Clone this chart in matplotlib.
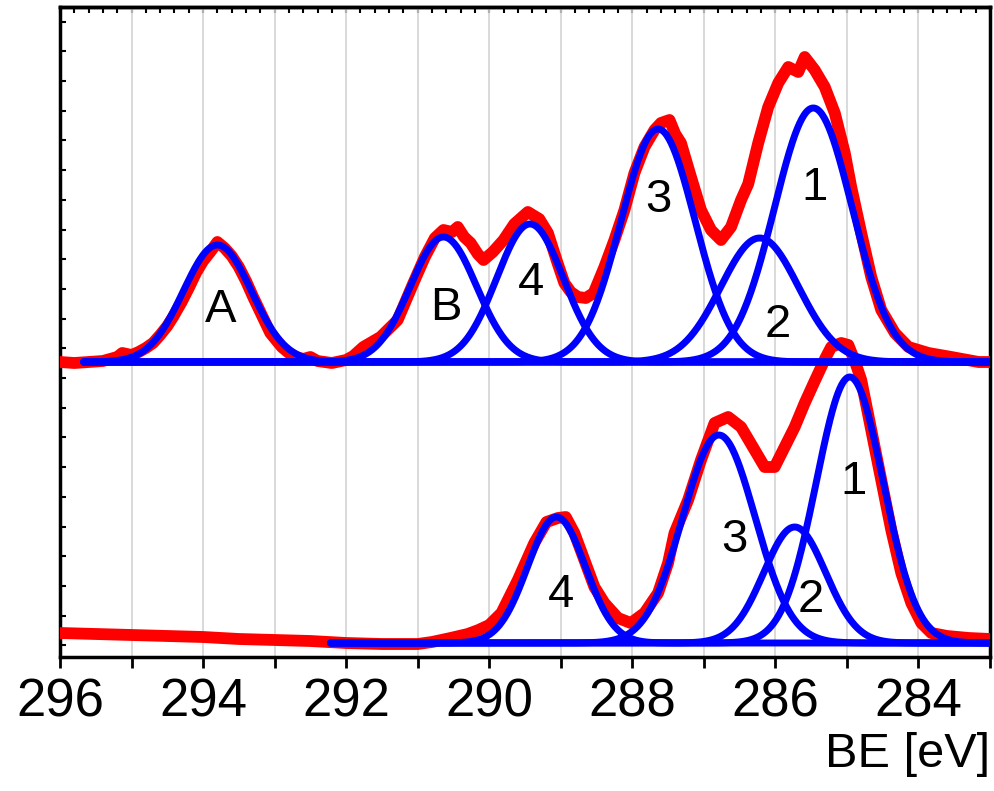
import numpy as np
import matplotlib
matplotlib.use("Agg")
import matplotlib.pyplot as plt
from matplotlib.ticker import MultipleLocator, NullFormatter

plt.rcParams['font.family'] = ['Liberation Sans', 'DejaVu Sans']

# ---------------- data ----------------
# upper spectrum: measured C1s (red), binding energy [eV] / intensity (a.u.)
top_be = [296.00, 295.80, 295.60, 295.40, 295.20, 295.13, 295.00, 294.90, 294.80, 294.70,
          294.60, 294.50, 294.42, 294.30, 294.20, 294.10, 294.00, 293.90, 293.80, 293.70,
          293.60, 293.50, 293.40, 293.30, 293.20, 293.06, 292.90, 292.80, 292.70, 292.60,
          292.50, 292.40, 292.20, 292.00, 291.90, 291.76, 291.52, 291.28, 291.06, 290.90,
          290.76, 290.64, 290.52, 290.44, 290.35, 290.26, 290.16, 290.08, 289.95, 289.80,
          289.65, 289.46, 289.30, 289.18, 289.05, 288.95, 288.86, 288.76, 288.65, 288.54,
          288.39, 288.25, 288.11, 287.97, 287.83, 287.69, 287.60, 287.48, 287.40, 287.32,
          287.18, 287.04, 286.90, 286.76, 286.62, 286.48, 286.38, 286.24, 286.10, 285.96,
          285.82, 285.68, 285.59, 285.45, 285.31, 285.17, 285.03, 284.94, 284.80, 284.66,
          284.52, 284.33, 284.14, 283.86, 283.54, 283.16, 283.00]
top_int = [0, -1, 0, 1, 5, 9, 7, 10, 14, 19,
           27, 36, 45, 60, 74, 89, 101, 110, 120, 114,
           106, 95, 81, 65, 50, 29, 15, 9, 5, 3,
           5, 1, -1, 2, 6, 15, 25, 42, 79, 105,
           124, 132, 130, 135, 125, 119, 108, 102, 110, 122,
           138, 150, 143, 129, 100, 79, 70, 65, 64, 69,
           95, 122, 152, 189, 215, 232, 239, 242, 228, 219,
           185, 152, 132, 122, 135, 162, 178, 219, 255, 279,
           295, 290, 305, 292, 275, 249, 209, 175, 129, 85,
           52, 29, 15, 9, 5, 0, 0]

# lower spectrum: measured C1s (red)
bot_be = [296.00, 295.50, 295.00, 294.50, 294.00, 293.50, 293.00, 292.50, 292.00, 291.50,
          291.00, 290.80, 290.54, 290.30, 290.15, 290.00, 289.83, 289.60, 289.37, 289.20,
          289.04, 288.93, 288.81, 288.67, 288.53, 288.39, 288.20, 288.02, 287.83, 287.64,
          287.50, 287.41, 287.22, 287.04, 286.85, 286.66, 286.48, 286.29, 286.15, 286.01,
          285.87, 285.73, 285.59, 285.45, 285.30, 285.22, 285.08, 284.98, 284.88, 284.80,
          284.66, 284.52, 284.38, 284.24, 284.10, 283.96, 283.82, 283.60, 283.30, 283.00]
bot_int = [10, 9, 8, 7, 6, 4, 3, 2, 0, -1,
           -1, 1, 5, 9, 13, 18, 30, 63, 100, 121,
           125, 126, 110, 83, 56, 40, 25, 20, 30, 50,
           80, 110, 143, 183, 220, 226, 216, 193, 176, 176,
           196, 216, 240, 262, 285, 296, 300, 298, 280, 263,
           213, 163, 113, 70, 40, 20, 10, 7, 5, 4]

# fitted components (blue): centre [eV], height (a.u.), FWHM [eV]
top_labels  = ['A', 'B', '4', '3', '2', '1']
top_centre  = [293.80, 290.64, 289.43, 287.64, 286.22, 285.47]
top_height  = [117, 125, 138, 233, 124, 254]
top_fwhm    = [1.12, 1.09, 1.10, 1.22, 1.28, 1.28]

bot_labels  = ['4', '3', '2', '1']
bot_centre  = [289.06, 286.79, 285.73, 284.96]
bot_height  = [126, 208, 116, 266]
bot_fwhm    = [0.95, 1.19, 1.02, 1.10]

# label anchor positions (BE, intensity incl. offset)
top_lab_x = [293.76, 290.61, 289.42, 287.64, 285.97, 285.45]
top_lab_y = [347, 349, 374, 457, 332, 469]
bot_lab_x = [289.00, 286.57, 285.50, 284.91]
bot_lab_y = [62, 117, 57, 175]

top_offset = 295
bot_offset = 14
top_fit_range = (295.67, 283.0)
bot_fit_range = (292.22, 283.0)

xticks = [296, 294, 292, 290, 288, 286, 284]

# ---------------- figure ----------------
fig = plt.figure(figsize=(9.94, 7.91), dpi=100)
ax = fig.add_axes([60/994, (791-657)/791, 930/994, 650/791])

RED = '#ff0000'
BLUE = '#0000ff'

ax.plot(top_be, np.array(top_int) + top_offset, color=RED, lw=8.5,
        solid_joinstyle='round', solid_capstyle='round', zorder=3)
ax.plot(bot_be, np.array(bot_int) + bot_offset, color=RED, lw=8.5,
        solid_joinstyle='round', solid_capstyle='round', zorder=3)


def draw_components(centres, heights, fwhms, rng, offset):
    e = np.linspace(rng[0], rng[1], 800)
    for c, h, w in zip(centres, heights, fwhms):
        s = w / 2.3548
        ax.plot(e, offset + h * np.exp(-0.5 * ((e - c) / s) ** 2), color=BLUE,
                lw=5, solid_capstyle='round', zorder=4)


draw_components(top_centre, top_height, top_fwhm, top_fit_range, top_offset)
draw_components(bot_centre, bot_height, bot_fwhm, bot_fit_range, bot_offset)

for t, x, y in zip(top_labels, top_lab_x, top_lab_y):
    ax.text(x, y, t, fontsize=34, ha='center', va='center', color='black', zorder=6)
for t, x, y in zip(bot_labels, bot_lab_x, bot_lab_y):
    ax.text(x, y, t, fontsize=34, ha='center', va='center', color='black', zorder=6)

ax.set_xlim(296, 283)
ax.set_ylim(0, 650)

ax.xaxis.set_major_locator(MultipleLocator(2))
ax.xaxis.set_minor_locator(MultipleLocator(1))
ax.set_xticks(xticks)
ax.set_xticklabels([str(v) for v in xticks])
ax.tick_params(axis='x', which='both', direction='out', length=8, width=2,
               labelsize=38, pad=7, top=False, bottom=True)
ax.grid(axis='x', which='both', color='#d3d3d3', lw=1.2, zorder=0)
ax.set_axisbelow(True)

ax.yaxis.set_major_locator(MultipleLocator(29.7, offset=11.7))
ax.yaxis.set_major_formatter(NullFormatter())
ax.tick_params(axis='y', which='both', direction='in', length=4, width=1.5,
               left=True, right=False, labelleft=False)

sec = ax.secondary_xaxis('top')
sec.xaxis.set_major_locator(MultipleLocator(0.2))
sec.xaxis.set_major_formatter(NullFormatter())
sec.tick_params(axis='x', direction='in', length=4, width=1.5, labeltop=False)
sec.spines['top'].set_linewidth(2.5)

for sp in ax.spines.values():
    sp.set_linewidth(2.5)

ax.set_xlabel('BE [eV]', fontsize=35, loc='right', labelpad=3)

fig.savefig('out.png', dpi=100)
